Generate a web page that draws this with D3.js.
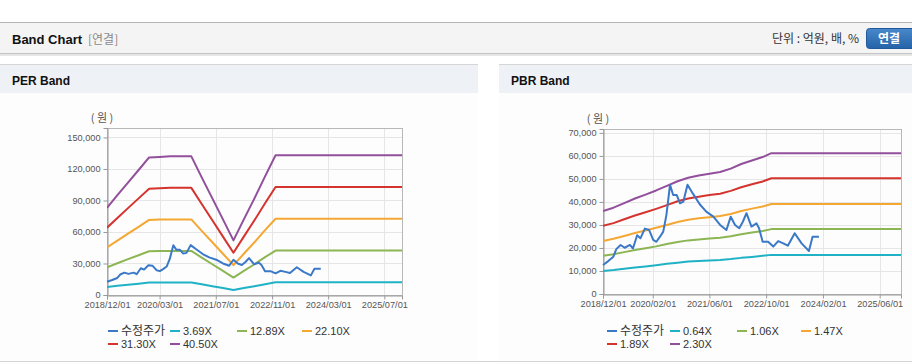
<!DOCTYPE html>
<html><head><meta charset="utf-8">
<script src="https://cdn.jsdelivr.net/npm/d3@7"></script>
<style>
body{margin:0;background:#fff;}
svg{display:block;font-family:"Liberation Sans",Arial,"Noto Sans CJK KR",sans-serif;}
</style></head><body>
<script>
// ---------- DATA ----------
const priceDates = ["2018-12-01","2019-01-15","2019-02-28","2019-03-25","2019-05-01","2019-06-05","2019-07-20","2019-08-15","2019-09-20","2019-10-18","2019-11-25","2020-01-01","2020-02-05","2020-03-03","2020-04-03","2020-05-01","2020-05-28","2020-06-28","2020-07-25","2020-08-25","2020-09-22","2020-10-20","2020-11-25","2021-01-12","2021-03-10","2021-05-05","2021-07-05","2021-09-01","2021-10-25","2021-12-01","2022-01-07","2022-02-12","2022-03-15","2022-04-15","2022-05-28","2022-07-10","2022-08-01","2022-09-01","2022-10-18","2022-12-01","2023-01-12","2023-02-25","2023-04-05","2023-06-03","2023-08-01","2023-10-03","2023-11-03","2023-12-28"];
const priceValues = [12600,14300,16200,19500,21300,20100,21300,19800,25500,24200,28400,27800,23500,22700,24900,27100,34300,47400,43000,43000,39400,40100,47500,43500,39000,35800,33600,30000,27800,33600,30000,28600,31400,35100,29300,30700,28600,22700,22700,20600,23000,22000,21000,26400,22000,18700,24900,24900];

const perBandDates = ["2018-12-01","2019-03-01","2019-06-01","2019-09-01","2019-12-01","2020-03-01","2020-06-01","2020-09-01","2020-12-01","2021-03-01","2021-06-01","2021-09-01","2021-12-01","2022-03-01","2022-06-01","2022-09-01","2022-12-01","2025-12-01"];
const per369  = [7600,8700,9700,10800,11900,12000,12000,12000,12000,10200,8400,6600,4700,6600,8400,10300,12100,12100];
const per1289 = [26400,30200,34100,37900,41700,41900,42000,42000,42000,35600,29300,22900,16600,22900,29300,36000,42300,42300];
const per2210 = [45300,51800,58400,64900,71500,71800,72000,72000,72000,61100,50200,39300,28400,39300,50200,61700,72600,72600];
const per3130 = [64100,73400,82700,92000,101200,101600,102000,102000,102000,86600,71100,55600,40200,55600,71100,87300,102800,102800];
const per4050 = [83000,95000,107000,119000,131000,131500,132000,132000,132000,112000,92000,72000,52000,72000,92000,113000,133000,133000];
const perLabels = ["수정주가","3.69X","12.89X","22.10X","31.30X","40.50X"];
const perTicksY = [0,30000,60000,90000,120000,150000];
const perTicksX = ["2018-12-01","2020-03-01","2021-07-01","2022-11-01","2024-03-01","2025-07-01"];

const pbrBandDates = ["2018-12-01","2019-03-01","2019-06-01","2019-09-01","2019-12-01","2020-03-01","2020-06-01","2020-09-01","2020-12-01","2021-03-01","2021-06-01","2021-09-01","2021-12-01","2022-03-01","2022-06-01","2022-09-01","2022-11-15","2025-12-01"];
const pbr064 = [10000,10400,11000,11500,12000,12500,13100,13600,14100,14300,14600,14800,15200,15700,16100,16600,17000,17000];
const pbr106 = [16600,17300,18200,19100,19900,20700,21700,22600,23300,23700,24100,24400,25100,26000,26700,27400,28200,28200];
const pbr147 = [23000,24000,25200,26500,27600,28800,30000,31300,32300,32900,33400,33900,34800,36100,37100,38000,39100,39100];
const pbr189 = [29600,30800,32500,34100,35500,37000,38600,40300,41500,42300,43000,43600,44800,46400,47700,48900,50300,50300];
const pbr230 = [36000,37500,39500,41500,43200,45000,47000,49000,50500,51500,52300,53000,54500,56500,58000,59500,61200,61200];
const pbrLabels = ["수정주가","0.64X","1.06X","1.47X","1.89X","2.30X"];
const pbrTicksY = [0,10000,20000,30000,40000,50000,60000,70000];
const pbrTicksX = ["2018-12-01","2020-02-01","2021-06-01","2022-10-01","2024-02-01","2025-06-01"];

const colors = ["#3b79c8","#1fb2c6","#8cb553","#f5a733","#d5332e","#924f9c"];
const domainX = ["2018-12-01","2025-12-01"];

// ---------- DRAW ----------
const W = 912, H = 364;
const svg = d3.select("body").append("svg").attr("width", W).attr("height", H);
const parse = d3.timeParse("%Y-%m-%d");
const fmt = d3.timeFormat("%Y/%m/%d");

// top header
svg.append("rect").attr("x",0).attr("y",54).attr("width",W).attr("height",2).attr("fill","#e6e6e6");
svg.append("rect").attr("x",0).attr("y",22).attr("width",W).attr("height",31).attr("fill","#f4f4f4");
svg.append("line").attr("x1",0).attr("x2",W).attr("y1",22.5).attr("y2",22.5).attr("stroke","#b5b5b5");
svg.append("line").attr("x1",0).attr("x2",W).attr("y1",53.5).attr("y2",53.5).attr("stroke","#c4c4c4");
svg.append("text").attr("x",12).attr("y",43.5).attr("font-size",13).attr("font-weight","bold").attr("fill","#111").text("Band Chart");
svg.append("text").attr("x",88).attr("y",43.5).attr("font-size",12).attr("fill","#8a8a8a").attr("font-family","'Noto Sans CJK KR',sans-serif").text("[연결]");
svg.append("text").attr("x",859).attr("y",43).attr("text-anchor","end").attr("font-size",12).attr("fill","#333").attr("font-family","'Noto Sans CJK KR',sans-serif").text("단위 : 억원, 배, %");
const grad = svg.append("defs").append("linearGradient").attr("id","btn").attr("x1",0).attr("x2",0).attr("y1",0).attr("y2",1);
grad.append("stop").attr("offset","0%").attr("stop-color","#4a88cc");
grad.append("stop").attr("offset","100%").attr("stop-color","#2563a8");
svg.append("rect").attr("x",866.5).attr("y",28.5).attr("width",50).attr("height",20).attr("rx",3).attr("fill","url(#btn)").attr("stroke","#22599a");
svg.append("text").attr("x",889).attr("y",43).attr("text-anchor","middle").attr("font-size",12).attr("font-weight","bold").attr("fill","#fff").attr("font-family","'Noto Sans CJK KR',sans-serif").text("연결");

// bottom line
svg.append("line").attr("x1",0).attr("x2",W).attr("y1",361.5).attr("y2",361.5).attr("stroke","#d4d4d4");

function panel(cfg){
  const g = svg.append("g");
  g.append("rect").attr("x",cfg.px).attr("y",65).attr("width",cfg.pw).attr("height",28).attr("fill","#eef2f7");
  g.append("line").attr("x1",cfg.px).attr("x2",cfg.px+cfg.pw).attr("y1",64.5).attr("y2",64.5).attr("stroke","#d6d6d6");
  g.append("rect").attr("x",cfg.px).attr("y",93).attr("width",cfg.pw).attr("height",268).attr("fill","#fdfdfd");
  g.append("text").attr("x",cfg.px+12).attr("y",85).attr("font-size",12).attr("font-weight","bold").attr("fill","#111").text(cfg.title);

  const x = d3.scaleTime().domain(domainX.map(parse)).range([cfg.x0, cfg.x1]);
  const y = d3.scaleLinear().domain([0, cfg.ymax]).range([cfg.y0, cfg.y1]);

  // grid
  g.selectAll(".gy").data(cfg.ticksY).join("line")
    .attr("x1",cfg.x0).attr("x2",cfg.x1).attr("y1",d=>Math.round(y(d))+0.5).attr("y2",d=>Math.round(y(d))+0.5)
    .attr("stroke","#e6e6e6");
  g.selectAll(".gx").data(cfg.ticksX.map(parse)).join("line")
    .attr("x1",d=>Math.round(x(d))+0.5).attr("x2",d=>Math.round(x(d))+0.5).attr("y1",cfg.y1).attr("y2",cfg.y0)
    .attr("stroke","#e6e6e6");
  g.append("rect").attr("x",cfg.x0+0.5).attr("y",cfg.y1+0.5).attr("width",cfg.x1-cfg.x0).attr("height",cfg.y0-cfg.y1)
    .attr("fill","none").attr("stroke","#b8b8b8");

  // axes
  const ay = g.append("g").attr("transform",`translate(${cfg.x0+0.5},0)`)
    .call(d3.axisLeft(y).tickValues(cfg.ticksY).tickFormat(d3.format(",")).tickSize(4).tickPadding(3));
  const ax = g.append("g").attr("transform",`translate(0,${cfg.y0+0.5})`)
    .call(d3.axisBottom(x).tickValues(cfg.ticksX.map(parse)).tickFormat(fmt).tickSize(4).tickPadding(2));
  [ay,ax].forEach(a=>{
    a.select(".domain").attr("stroke","#999");
    a.selectAll(".tick line").attr("stroke","#999");
    a.selectAll("text").attr("fill","#555").attr("font-size",9.2).attr("font-family","'Liberation Sans',Arial,sans-serif");
  });
  g.append("text").attr("x",cfg.x0-5).attr("y",cfg.y1-6).attr("text-anchor","middle").attr("font-size",11)
    .attr("fill","#555").attr("font-family","'Noto Sans CJK KR',sans-serif").text("( 원 )");

  // lines
  const clip = "clip"+cfg.title.replace(/\s/g,"");
  g.append("clipPath").attr("id",clip).append("rect").attr("x",cfg.x0).attr("y",cfg.y1).attr("width",cfg.x1-cfg.x0+1).attr("height",cfg.y0-cfg.y1);
  const line = d3.line().x(d=>x(d[0])).y(d=>y(d[1]));
  const bd = cfg.bandDates.map(parse);
  cfg.bands.forEach((vals,i)=>{
    g.append("path").attr("clip-path",`url(#${clip})`).datum(bd.map((d,j)=>[d,vals[j]])).attr("d",line)
      .attr("fill","none").attr("stroke",colors[i+1]).attr("stroke-width",2).attr("stroke-linejoin","round");
  });
  g.append("path").datum(priceDates.map((d,j)=>[parse(d),priceValues[j]])).attr("d",line)
    .attr("fill","none").attr("stroke",colors[0]).attr("stroke-width",2).attr("stroke-linejoin","round");

  // legend
  const lx = cfg.legendX;
  cfg.labels.forEach((lab,i)=>{
    const row = i<4?0:1, col = i<4?i:i-4;
    const yy = row===0?331:344;
    const xx = cfg.x0 + lx[col];
    g.append("line").attr("x1",xx).attr("x2",xx+10).attr("y1",yy).attr("y2",yy).attr("stroke",colors[i]).attr("stroke-width",2);
    g.append("text").attr("x",xx+13).attr("y",yy+4).attr("font-size",i===0?12:11).attr("fill","#333")
      .attr("font-family",i===0?"'Noto Sans CJK KR',sans-serif":"'Liberation Sans',Arial,sans-serif").text(lab);
  });
}

panel({title:"PER Band", px:0, pw:478, x0:107, x1:402, y0:295, y1:128, ymax:159000,
  ticksY:perTicksY, ticksX:perTicksX, bandDates:perBandDates,
  bands:[per369,per1289,per2210,per3130,per4050], labels:perLabels, legendX:[1,63,130,195]});
panel({title:"PBR Band", px:499, pw:413, x0:603, x1:901, y0:294, y1:129, ymax:71700,
  ticksY:pbrTicksY, ticksX:pbrTicksX, bandDates:pbrBandDates,
  bands:[pbr064,pbr106,pbr147,pbr189,pbr230], labels:pbrLabels, legendX:[4,67,134,198]});
</script>
</body></html>
